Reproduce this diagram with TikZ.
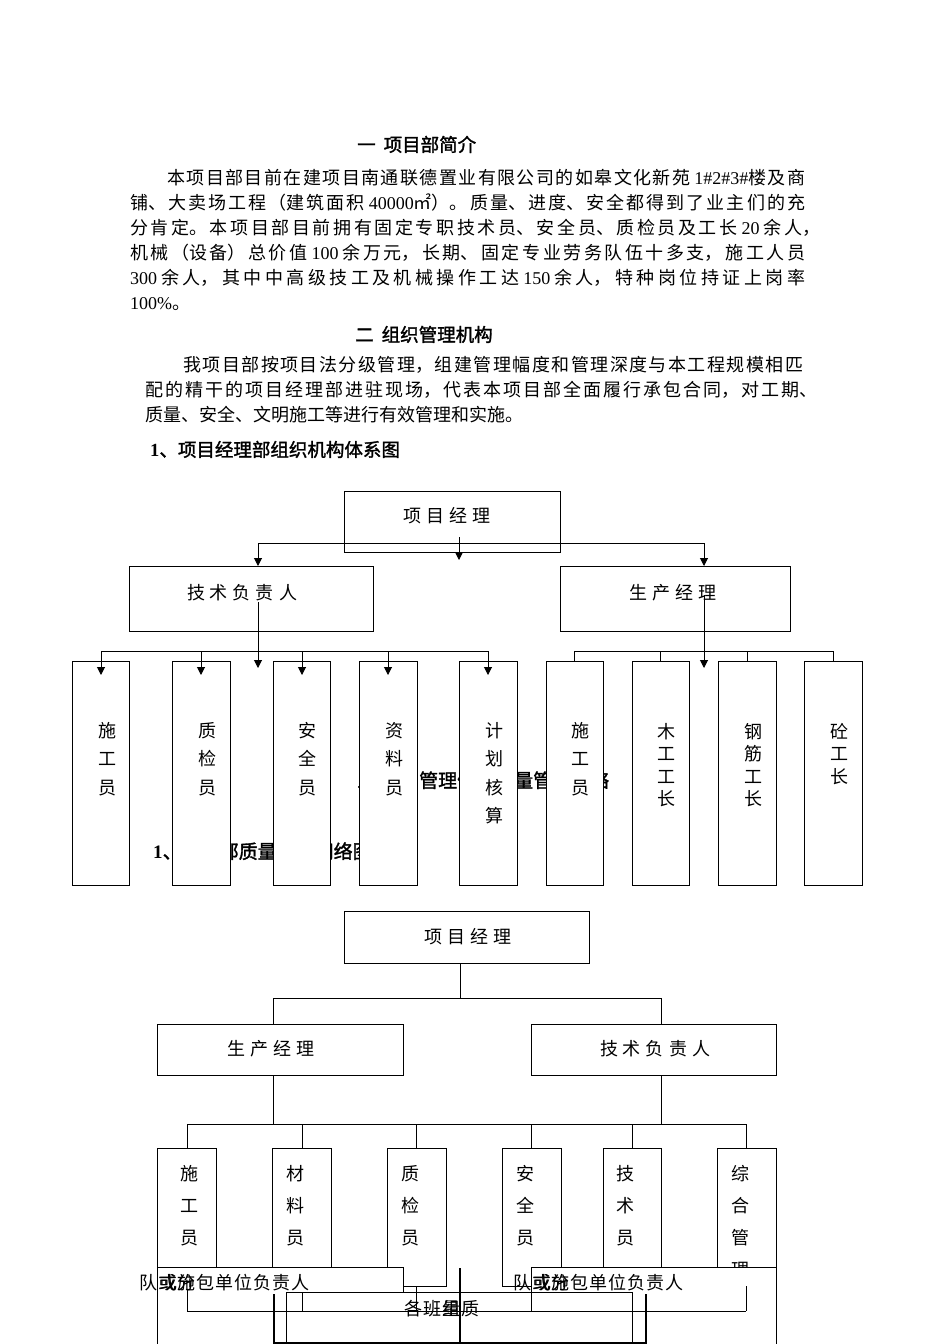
\documentclass[tikz,border=0pt]{standalone}
\usepackage{fontspec}
\setmainfont{Noto Sans CJK SC}
\newfontfamily\cjk{Noto Sans CJK SC}
\newfontfamily\cjkb[FakeBold=1.6]{Noto Sans CJK SC}
\newfontfamily\lat{Liberation Serif}
\usetikzlibrary{arrows.meta}
\XeTeXlinebreaklocale "zh"
\XeTeXlinebreakskip=0pt plus 1pt
% spaced characters (works in any mode)
\newcommand\lsp[2]{\def\spsep{\hspace{#1}}\spA#2\relax}
\def\spA#1{\ifx\relax#1\else #1\expandafter\spB\fi}
\def\spB#1{\ifx\relax#1\else\spsep #1\expandafter\spB\fi}
% a single justified line of given width
\newcommand\fitline[2]{\parbox[b]{#1}{\XeTeXlinebreakskip=0pt plus 1fil\relax\parfillskip=0pt\relax\noindent #2}}
\begin{document}
\begin{tikzpicture}[x=1pt,y=-1pt,
  bx/.style={draw=black, line width=1pt, fill=white, inner sep=0pt, outer sep=0pt, anchor=north west},
  body/.style={anchor=base west, inner sep=0pt, font=\cjk\fontsize{18}{25}\selectfont},
  hd/.style={anchor=base west, inner sep=0pt, font=\cjkb\fontsize{18.5}{25}\selectfont},
  lab/.style={inner sep=0pt, font=\cjk\fontsize{18}{18}\selectfont},
  vlab/.style={inner sep=0pt, anchor=north, align=center, font=\cjk\fontsize{18}{#1}\selectfont},
  ln/.style={line width=1pt},
  tk/.style={line width=1.6pt},
  arr/.style={line width=1pt, -{Triangle[length=8pt,width=8pt]}}
]
\useasboundingbox (0,0) rectangle (950,1344);
\clip (0,0) rectangle (950,1344);
\fill[white] (0,0) rectangle (950,1344);

% ---------- section 1 ----------
\node[hd] (h1) at (357,151.5) {一\hspace{8pt}项目部简介};
\node[body] (p1) at (167,184) {\fitline{638pt}{本项目部目前在建项目南通联德置业有限公司的如皋文化新苑\ {\lat 1\#2\#3\#}楼及商}};
\node[body] (p2) at (130,209) {\fitline{675pt}{铺、大卖场工程（建筑面积\ {\lat 40000}㎡）。质量、进度、安全都得到了业主们的充}};
\node[body] (p3) at (130,234) {\fitline{690pt}{分肯定。本项目部目前拥有固定专职技术员、安全员、质检员及工长\ {\lat 20}\ 余人，}};
\node[body] (p4) at (130,259) {\fitline{675pt}{机械（设备）总价值\ {\lat 100}\ 余万元，长期、固定专业劳务队伍十多支，施工人员}};
\node[body] (p5) at (130,284) {\fitline{675pt}{{\lat 300}\ 余人，其中中高级技工及机械操作工达\ {\lat 150}\ 余人，特种岗位持证上岗率}};
\node[body] (p6) at (130,309) {{\lat 100\%}。};

% ---------- section 2 ----------
\node[hd] (h2) at (355,341.5) {二\hspace{8pt}组织管理机构};
\node[body] (q1) at (183,371.5) {\fitline{620pt}{我项目部按项目法分级管理，组建管理幅度和管理深度与本工程规模相匹}};
\node[body] (q2) at (145,396.5) {\fitline{672pt}{配的精干的项目经理部进驻现场，代表本项目部全面履行承包合同，对工期、}};
\node[body] (q3) at (145,421.5) {质量、安全、文明施工等进行有效管理和实施。};
\node[hd] (h3) at (150,456.5) {{\lat\bfseries 1}、项目经理部组织机构体系图};

% hidden headings (covered by boxes)
\node[hd, font=\cjkb\fontsize{19}{25}\selectfont] (h4) at (357,787.5) {三\hspace{5pt}项目管理体系质量管理网络};
\node[hd, font=\cjkb\fontsize{19}{25}\selectfont] (h5) at (153,858.5) {{\lat\bfseries 1}、项目部质量管理网络图};

% ---------- chart 1 ----------
\node[bx, minimum width=216, minimum height=61] (pm1) at (344,491) {};
\node[lab] (pm1t) at (447,516) {\lsp{5pt}{项目经理}};
\node[bx, minimum width=244, minimum height=65] (tech1) at (129,566) {};
\node[lab] (tech1t) at (242,593) {\lsp{5pt}{技术负责人}};
\node[bx, minimum width=230, minimum height=65] (prod1) at (560,566) {};
\node[lab] (prod1t) at (673,593) {\lsp{5pt}{生产经理}};

\foreach \n/\x/\w in {c1/72/57, c2/172/58, c3/273/57, c4/359/58, c5/459/58, c6/546/57, c7/632/57, c8/718/58, c9/804/58}
  \node[bx, minimum width=\w, minimum height=224] (\n) at (\x,661) {};

\node[vlab=28.5] (c1t) at (107,722) {施\\工\\员};
\node[vlab=28.5] (c2t) at (207,722) {质\\检\\员};
\node[vlab=28.5] (c3t) at (307,722) {安\\全\\员};
\node[vlab=28.5] (c4t) at (394,722) {资\\料\\员};
\node[vlab=28.5] (c5t) at (494,722) {计\\划\\核\\算};
\node[vlab=28.5] (c6t) at (580,722) {施\\工\\员};
\node[vlab=22.5] (c7t) at (666,723) {木\\工\\工\\长};
\node[vlab=22.5] (c8t) at (753,723) {钢\\筋\\工\\长};
\node[vlab=22.5] (c9t) at (839,723) {砼\\工\\长};

% connectors chart 1
\coordinate (b1L) at (258,543);
\coordinate (b1R) at (704,543);
\draw[ln] (b1L) -- (b1R);
\draw[arr] (b1L) -- (tech1.north -| b1L);
\draw[arr] (b1R) -- (prod1.north -| b1R);
\coordinate (pmA) at (459,537);
\coordinate (pmB) at (459,560);
\draw[arr] (pmA) -- (pmB);
\coordinate (tA) at (258,602);
\coordinate (tB) at (258,668);
\draw[arr] (tA) -- (tB);
\coordinate (pA) at (704,595);
\coordinate (pB) at (704,668);
\draw[arr] (pA) -- (pB);
\coordinate (bus2L) at (101,651);
\coordinate (bus2R) at (488,651);
\draw[ln] (bus2L) -- (bus2R);
\foreach \x in {101,201,302,388,488}
  \draw[arr] (\x,651) -- (\x,675);
\coordinate (bus3L) at (574,651);
\coordinate (bus3R) at (833,651);
\draw[ln] (bus3L) -- (bus3R);
\foreach \n/\x in {c6/574,c7/660,c8/747,c9/833}
  \draw[ln] (\x,651) -- (\n.north -| \x,651);

% ---------- chart 2 ----------
\node[bx, minimum width=245, minimum height=52] (pm2) at (344,911) {};
\node[lab] (pm2t) at (468,937) {\lsp{5pt}{项目经理}};
\node[bx, minimum width=246, minimum height=51] (prod2) at (157,1024) {};
\node[lab] (prod2t) at (271,1049) {\lsp{5pt}{生产经理}};
\node[bx, minimum width=245, minimum height=51] (tech2) at (531,1024) {};
\node[lab] (tech2t) at (655,1049) {\lsp{5pt}{技术负责人}};

\foreach \n/\x/\w in {d1/157/59, d2/272/59, d3/387/59, d4/502/59, d5/603/58, d6/717/59}
  \node[bx, minimum width=\w, minimum height=138] (\n) at (\x,1148) {};

\node[vlab=32] (d1t) at (189,1165) {施\\工\\员};
\node[vlab=32] (d2t) at (295,1165) {材\\料\\员};
\node[vlab=32] (d3t) at (410,1165) {质\\检\\员};
\node[vlab=32] (d4t) at (525,1165) {安\\全\\员};
\node[vlab=32] (d5t) at (625,1165) {技\\术\\员};
\node[vlab=32] (d6t) at (740,1165) {综\\合\\管\\理};

\coordinate (pm2s) at (460,963);
\coordinate (top2) at (460,998);
\draw[ln] (pm2s) -- (top2);
\coordinate (t2L) at (273,998);
\coordinate (t2R) at (661,998);
\draw[ln] (t2L) -- (t2R);
\draw[ln] (t2L) -- (prod2.north -| t2L);
\draw[ln] (t2R) -- (tech2.north -| t2R);
\coordinate (m2L) at (273,1124);
\coordinate (m2R) at (661,1124);
\draw[ln] (prod2.south -| m2L) -- (m2L);
\draw[ln] (tech2.south -| m2R) -- (m2R);
\draw[ln] (187,1124) -- (746,1124);
\foreach \n/\x in {d1/187,d2/302,d3/416,d4/531,d5/632,d6/746}
  \draw[ln] (\x,1124) -- (\n.north -| \x,1124);

% ---------- overlapping boxes at the bottom ----------
\node[bx, minimum width=246, minimum height=95] (A) at (157,1267) {};
\node[lab, anchor=west] (At) at (139,1283) {\lsp{1pt}{队或分包单位负责人}};
\node[lab, anchor=west] (At2) at (177,1283) {施};
\node[lab, anchor=west] (At3) at (158.8,1283) {或};

\node[bx, minimum width=245, minimum height=95] (B) at (531,1267) {};
\node[lab, anchor=west] (Bt) at (513,1283) {\lsp{1pt}{队或分包单位负责人}};
\node[lab, anchor=west] (Bt2) at (551,1283) {施};
\node[lab, anchor=west] (Bt3) at (532.8,1283) {或};

\node[bx, minimum width=346, minimum height=80] (C) at (286,1292) {};
\node[lab, anchor=west] (Ct) at (404,1309) {\lsp{1pt}{各班组质}};
\node[lab, anchor=west] (Ct2) at (442,1309) {量};

% lower bus
\coordinate (lbL) at (187,1311);
\coordinate (lbR) at (746,1311);
\draw[ln] (lbL) -- (lbR);
\draw[ln] (187,1290) -- (lbL);
\draw[ln] (302,1292) -- (302,1311);
\draw[ln] (d3.south -| 416,0) -- (416,1311);
\draw[ln] (531,1287) -- (531,1311);
\draw[ln] (d6.south -| 746,0) -- (lbR);

% thick frame and centre line
\coordinate (fL) at (274,1294);
\coordinate (fR) at (646,1294);
\draw[tk] (fL) -- (274,1343) -- (646,1343) -- (fR);
\coordinate (cT) at (460,1268);
\coordinate (cB) at (460,1344);
\draw[line width=1.3pt] (cT) -- (cB);
\end{tikzpicture}
\end{document}
